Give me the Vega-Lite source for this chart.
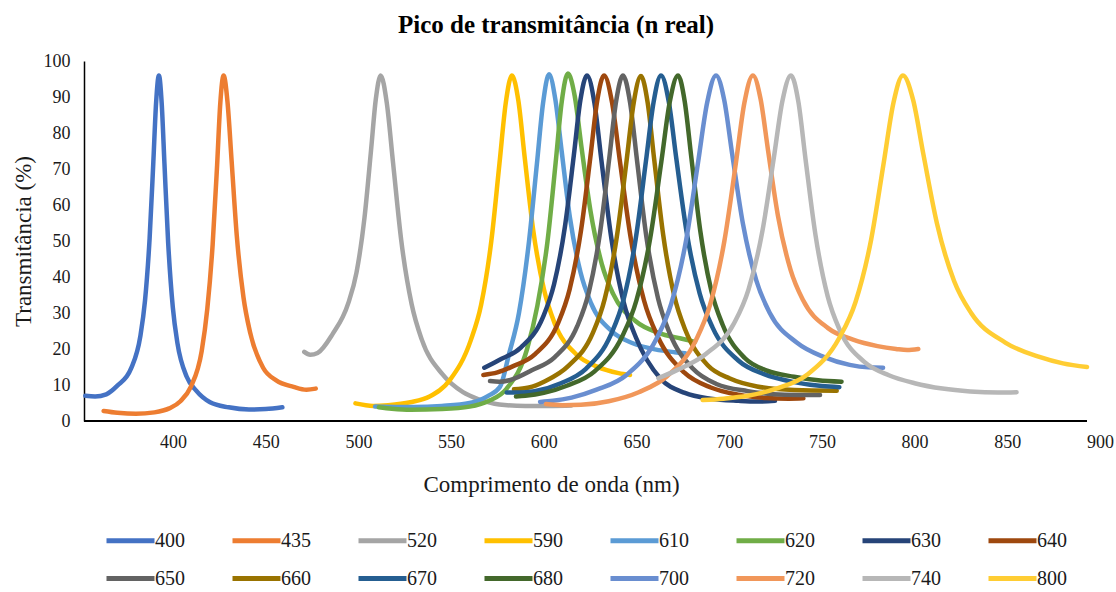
{
  "$schema": "https://vega.github.io/schema/vega-lite/v6.json",
  "width": 1016,
  "height": 360,
  "autosize": {"type": "none"},
  "padding": {"left": 84, "top": 61, "right": 16, "bottom": 171},
  "background": "white",
  "config": {"view": {"stroke": null}},
  "title": {"text": "Pico de transmitância (n real)", "font": "Liberation Serif", "fontSize": 25, "fontWeight": "bold", "color": "#000000", "anchor": "middle", "baseline": "alphabetic", "offset": -6, "dx": -36},
  "data": {"values": [
    {"s":"400","x":352.7,"y":7.0},{"s":"400","x":358,"y":6.8},{"s":"400","x":364,"y":7.4},{"s":"400","x":370,"y":9.8},{"s":"400","x":377.4,"y":14.6},{"s":"400","x":382.4,"y":23.6},{"s":"400","x":384.9,"y":33.4},{"s":"400","x":387.4,"y":50.8},{"s":"400","x":389.4,"y":72.0},{"s":"400","x":390.9,"y":88.5},{"s":"400","x":392.4,"y":96},{"s":"400","x":393.9,"y":88.3},{"s":"400","x":395.4,"y":71.4},{"s":"400","x":397.4,"y":49.5},{"s":"400","x":399.9,"y":31.6},{"s":"400","x":402.4,"y":21.6},{"s":"400","x":407.4,"y":12.3},{"s":"400","x":412.4,"y":8.5},{"s":"400","x":420,"y":5.2},{"s":"400","x":430,"y":3.8},{"s":"400","x":441,"y":3.2},{"s":"400","x":450,"y":3.3},{"s":"400","x":459,"y":3.8},
    {"s":"435","x":362.6,"y":2.8},{"s":"435","x":370,"y":2.3},{"s":"435","x":380,"y":2.0},{"s":"435","x":390,"y":2.4},{"s":"435","x":398,"y":3.5},{"s":"435","x":404,"y":5.5},{"s":"435","x":409.6,"y":9.5},{"s":"435","x":415.5,"y":19.5},{"s":"435","x":418.5,"y":31.1},{"s":"435","x":421.4,"y":49.1},{"s":"435","x":423.8,"y":71.1},{"s":"435","x":425.5,"y":88.2},{"s":"435","x":427.3,"y":96},{"s":"435","x":429.4,"y":88.6},{"s":"435","x":431.6,"y":72.4},{"s":"435","x":434.4,"y":51.5},{"s":"435","x":438.0,"y":34.4},{"s":"435","x":441.5,"y":24.8},{"s":"435","x":448.6,"y":14.8},{"s":"435","x":455.7,"y":11.3},{"s":"435","x":465,"y":9.5},{"s":"435","x":472,"y":8.7},{"s":"435","x":477,"y":9.0},
    {"s":"520","x":470.8,"y":19.2},{"s":"520","x":474,"y":18.4},{"s":"520","x":478,"y":18.9},{"s":"520","x":485.9,"y":24.0},{"s":"520","x":494.6,"y":32.8},{"s":"520","x":499.0,"y":41.3},{"s":"520","x":503.3,"y":56.5},{"s":"520","x":506.8,"y":75.1},{"s":"520","x":509.4,"y":89.4},{"s":"520","x":512.0,"y":96},{"s":"520","x":515.3,"y":88.4},{"s":"520","x":518.7,"y":71.7},{"s":"520","x":523.1,"y":50.2},{"s":"520","x":528.7,"y":32.5},{"s":"520","x":534.2,"y":22.6},{"s":"520","x":545.3,"y":13.0},{"s":"520","x":556.4,"y":8.0},{"s":"520","x":565,"y":6.0},{"s":"520","x":576,"y":4.6},{"s":"520","x":590,"y":4.2},{"s":"520","x":605,"y":4.2},{"s":"520","x":615,"y":4.3},
    {"s":"590","x":498.4,"y":4.9},{"s":"590","x":508,"y":4.2},{"s":"590","x":516,"y":4.4},{"s":"590","x":528,"y":5.2},{"s":"590","x":538.4,"y":6.8},{"s":"590","x":549.5,"y":11.5},{"s":"590","x":560.6,"y":22.4},{"s":"590","x":566.2,"y":32.3},{"s":"590","x":571.7,"y":50},{"s":"590","x":576.1,"y":71.6},{"s":"590","x":579.5,"y":88.4},{"s":"590","x":582.8,"y":96},{"s":"590","x":586.3,"y":88.9},{"s":"590","x":589.7,"y":73.2},{"s":"590","x":594.3,"y":53},{"s":"590","x":600.1,"y":36.5},{"s":"590","x":605.8,"y":27.2},{"s":"590","x":617.3,"y":18.6},{"s":"590","x":628.8,"y":15.1},{"s":"590","x":640.3,"y":13.3},{"s":"590","x":646.5,"y":12.8},
    {"s":"610","x":509,"y":4.0},{"s":"610","x":520,"y":3.9},{"s":"610","x":530,"y":3.9},{"s":"610","x":545,"y":4.2},{"s":"610","x":560,"y":5.0},{"s":"610","x":570,"y":7.0},{"s":"610","x":576.4,"y":9.5},{"s":"610","x":581.2,"y":18.5},{"s":"610","x":586.6,"y":30.0},{"s":"610","x":592.0,"y":49.8},{"s":"610","x":596.3,"y":71.5},{"s":"610","x":599.6,"y":88.3},{"s":"610","x":602.8,"y":96.3},{"s":"610","x":606.2,"y":89.4},{"s":"610","x":609.6,"y":75.1},{"s":"610","x":614.1,"y":56.5},{"s":"610","x":619.8,"y":41.3},{"s":"610","x":625.4,"y":32.8},{"s":"610","x":636.7,"y":24.9},{"s":"610","x":648.0,"y":21.6},{"s":"610","x":660,"y":19.9},{"s":"610","x":670.6,"y":19.1},{"s":"610","x":676.2,"y":18.8},
    {"s":"620","x":511,"y":3.8},{"s":"620","x":518,"y":3.4},{"s":"620","x":528,"y":3.1},{"s":"620","x":545,"y":3.3},{"s":"620","x":560,"y":4.0},{"s":"620","x":570,"y":5.5},{"s":"620","x":580.0,"y":9.0},{"s":"620","x":591.0,"y":20.0},{"s":"620","x":596.5,"y":31.9},{"s":"620","x":602.0,"y":49.9},{"s":"620","x":606.4,"y":71.8},{"s":"620","x":609.7,"y":88.8},{"s":"620","x":613.0,"y":96.5},{"s":"620","x":616.7,"y":90.2},{"s":"620","x":620.3,"y":76.2},{"s":"620","x":625.2,"y":58.3},{"s":"620","x":631.3,"y":43.6},{"s":"620","x":637.4,"y":35.3},{"s":"620","x":649.6,"y":27.7},{"s":"620","x":661.8,"y":24.5},{"s":"620","x":674,"y":22.9},{"s":"620","x":681.6,"y":22.0},
    {"s":"630","x":567.9,"y":14.8},{"s":"630","x":575.7,"y":16.9},{"s":"630","x":587.6,"y":20.4},{"s":"630","x":599.5,"y":28.8},{"s":"630","x":605.5,"y":37.9},{"s":"630","x":611.4,"y":54},{"s":"630","x":616.2,"y":73.8},{"s":"630","x":619.7,"y":89},{"s":"630","x":623.3,"y":96},{"s":"630","x":627.3,"y":88.4},{"s":"630","x":631.2,"y":71.9},{"s":"630","x":636.5,"y":50.5},{"s":"630","x":643.1,"y":33.0},{"s":"630","x":649.7,"y":23.2},{"s":"630","x":662.9,"y":11.8},{"s":"630","x":676.1,"y":7.8},{"s":"630","x":690,"y":6.2},{"s":"630","x":705,"y":5.6},{"s":"630","x":715,"y":5.4},{"s":"630","x":724.7,"y":5.6},
    {"s":"640","x":567.4,"y":12.8},{"s":"640","x":575,"y":13.5},{"s":"640","x":582.9,"y":15.1},{"s":"640","x":595.3,"y":18.6},{"s":"640","x":607.7,"y":27.2},{"s":"640","x":613.9,"y":36.5},{"s":"640","x":620.1,"y":53},{"s":"640","x":625.1,"y":73.2},{"s":"640","x":628.8,"y":88.9},{"s":"640","x":632.5,"y":96},{"s":"640","x":636.8,"y":88.5},{"s":"640","x":641.1,"y":72.0},{"s":"640","x":646.9,"y":50.8},{"s":"640","x":654.1,"y":33.4},{"s":"640","x":661.3,"y":23.6},{"s":"640","x":675.7,"y":13.5},{"s":"640","x":690.1,"y":9.3},{"s":"640","x":705,"y":7.3},{"s":"640","x":720,"y":6.4},{"s":"640","x":732,"y":6.2},{"s":"640","x":740,"y":6.3},
    {"s":"650","x":571,"y":11.1},{"s":"650","x":576,"y":10.9},{"s":"650","x":582,"y":11.4},{"s":"650","x":593.5,"y":14.1},{"s":"650","x":605.8,"y":17.7},{"s":"650","x":618.1,"y":26.4},{"s":"650","x":624.3,"y":35.8},{"s":"650","x":630.4,"y":52.5},{"s":"650","x":635.3,"y":72.9},{"s":"650","x":639.0,"y":88.8},{"s":"650","x":642.7,"y":96},{"s":"650","x":646.5,"y":88.6},{"s":"650","x":650.3,"y":72.3},{"s":"650","x":655.3,"y":51.3},{"s":"650","x":661.6,"y":34.1},{"s":"650","x":667.9,"y":24.4},{"s":"650","x":680.5,"y":14.5},{"s":"650","x":693.1,"y":10.3},{"s":"650","x":710,"y":8.3},{"s":"650","x":730,"y":7.3},{"s":"650","x":749,"y":7.2},
    {"s":"660","x":583.9,"y":8.8},{"s":"660","x":592,"y":9.3},{"s":"660","x":600.4,"y":11.0},{"s":"660","x":613.4,"y":15.4},{"s":"660","x":626.4,"y":24.4},{"s":"660","x":632.9,"y":34.0},{"s":"660","x":639.4,"y":51.2},{"s":"660","x":644.6,"y":72.1},{"s":"660","x":648.5,"y":88.4},{"s":"660","x":652.4,"y":95.8},{"s":"660","x":656.0,"y":88.5},{"s":"660","x":659.6,"y":72.4},{"s":"660","x":664.4,"y":51.7},{"s":"660","x":670.4,"y":34.7},{"s":"660","x":676.4,"y":25.2},{"s":"660","x":688.4,"y":15.5},{"s":"660","x":700.4,"y":11.8},{"s":"660","x":715,"y":9.6},{"s":"660","x":735,"y":8.6},{"s":"660","x":758,"y":8.4},
    {"s":"670","x":580,"y":7.9},{"s":"670","x":587,"y":7.9},{"s":"670","x":595,"y":8.3},{"s":"670","x":609.2,"y":10.5},{"s":"670","x":622.7,"y":14.5},{"s":"670","x":636.2,"y":24.0},{"s":"670","x":643.0,"y":33.7},{"s":"670","x":649.7,"y":51},{"s":"670","x":655.1,"y":72.2},{"s":"670","x":659.2,"y":88.5},{"s":"670","x":663.2,"y":96},{"s":"670","x":667.4,"y":88.7},{"s":"670","x":671.5,"y":72.8},{"s":"670","x":677.1,"y":52.3},{"s":"670","x":684.1,"y":35.4},{"s":"670","x":691.0,"y":26.0},{"s":"670","x":704.9,"y":16.8},{"s":"670","x":718.8,"y":13.0},{"s":"670","x":735,"y":10.8},{"s":"670","x":750,"y":9.7},{"s":"670","x":759.4,"y":9.4},
    {"s":"680","x":585,"y":6.8},{"s":"680","x":590,"y":7.0},{"s":"680","x":600,"y":7.8},{"s":"680","x":612.4,"y":9.8},{"s":"680","x":627.4,"y":13.8},{"s":"680","x":642.4,"y":23.6},{"s":"680","x":649.9,"y":33.4},{"s":"680","x":657.4,"y":50.8},{"s":"680","x":663.4,"y":72.0},{"s":"680","x":667.9,"y":88.5},{"s":"680","x":672.4,"y":96},{"s":"680","x":676.0,"y":88.8},{"s":"680","x":679.6,"y":73.1},{"s":"680","x":684.4,"y":52.8},{"s":"680","x":690.4,"y":36.1},{"s":"680","x":696.4,"y":26.8},{"s":"680","x":708.4,"y":17.5},{"s":"680","x":720.4,"y":14.0},{"s":"680","x":735,"y":12.3},{"s":"680","x":748,"y":11.3},{"s":"680","x":760.6,"y":10.9},
    {"s":"700","x":598,"y":5.3},{"s":"700","x":605,"y":5.6},{"s":"700","x":615,"y":6.5},{"s":"700","x":628.5,"y":8.7},{"s":"700","x":644.6,"y":12.8},{"s":"700","x":660.7,"y":22.8},{"s":"700","x":668.8,"y":32.7},{"s":"700","x":676.8,"y":50.3},{"s":"700","x":683.2,"y":71.8},{"s":"700","x":688.1,"y":88.4},{"s":"700","x":692.9,"y":96},{"s":"700","x":697.3,"y":89.2},{"s":"700","x":701.6,"y":74.2},{"s":"700","x":707.4,"y":54.8},{"s":"700","x":714.7,"y":38.9},{"s":"700","x":721.9,"y":30},{"s":"700","x":736.4,"y":21.8},{"s":"700","x":750.9,"y":17.8},{"s":"700","x":765,"y":15.6},{"s":"700","x":775,"y":14.9},{"s":"700","x":783,"y":14.8},
    {"s":"720","x":601.2,"y":4.7},{"s":"720","x":610,"y":4.4},{"s":"720","x":620,"y":4.5},{"s":"720","x":635,"y":5.5},{"s":"720","x":651.2,"y":8.0},{"s":"720","x":666.6,"y":12.5},{"s":"720","x":682.0,"y":22.4},{"s":"720","x":689.7,"y":32.3},{"s":"720","x":697.4,"y":50},{"s":"720","x":703.6,"y":71.6},{"s":"720","x":708.2,"y":88.4},{"s":"720","x":712.8,"y":96},{"s":"720","x":716.9,"y":89.5},{"s":"720","x":720.9,"y":75.4},{"s":"720","x":726.3,"y":57},{"s":"720","x":733.1,"y":42},{"s":"720","x":739.8,"y":33.6},{"s":"720","x":753.3,"y":25.8},{"s":"720","x":766.8,"y":22.6},{"s":"720","x":780,"y":20.8},{"s":"720","x":790,"y":20.0},{"s":"720","x":796,"y":19.7},{"s":"720","x":802,"y":20.0},
    {"s":"740","x":661.8,"y":11.9},{"s":"740","x":672.1,"y":14.2},{"s":"740","x":687.4,"y":18.6},{"s":"740","x":702.7,"y":27.2},{"s":"740","x":710.4,"y":36.5},{"s":"740","x":718.0,"y":53},{"s":"740","x":724.1,"y":73.2},{"s":"740","x":728.7,"y":88.9},{"s":"740","x":733.3,"y":96},{"s":"740","x":737.3,"y":88.7},{"s":"740","x":741.2,"y":72.6},{"s":"740","x":746.5,"y":51.8},{"s":"740","x":753.1,"y":34.7},{"s":"740","x":759.7,"y":25.2},{"s":"740","x":772.9,"y":16.4},{"s":"740","x":786.1,"y":12.7},{"s":"740","x":800,"y":10.5},{"s":"740","x":815,"y":9.0},{"s":"740","x":830,"y":8.2},{"s":"740","x":845,"y":7.9},{"s":"740","x":855,"y":8.0},
    {"s":"800","x":685.7,"y":5.8},{"s":"800","x":697,"y":6.2},{"s":"800","x":710,"y":7.0},{"s":"800","x":725.3,"y":9.0},{"s":"800","x":742.4,"y":13.0},{"s":"800","x":759.5,"y":23.2},{"s":"800","x":768.1,"y":33.0},{"s":"800","x":776.6,"y":50.5},{"s":"800","x":783.4,"y":71.9},{"s":"800","x":788.6,"y":88.4},{"s":"800","x":793.7,"y":96},{"s":"800","x":799.2,"y":89.2},{"s":"800","x":804.7,"y":74.2},{"s":"800","x":812.1,"y":54.8},{"s":"800","x":821.3,"y":38.9},{"s":"800","x":830.5,"y":30.0},{"s":"800","x":848.9,"y":21.8},{"s":"800","x":867.3,"y":17.8},{"s":"800","x":880,"y":16.0},{"s":"800","x":893,"y":15.0}
  ]},
  "layer": [
    {
      "mark": {"type": "line", "interpolate": "monotone", "strokeWidth": 4.5, "strokeCap": "round", "strokeJoin": "round"},
      "encoding": {
        "x": {"field": "x", "type": "quantitative", "scale": {"domain": [352, 900], "nice": false, "zero": false},
          "axis": {"values": [400, 450, 500, 550, 600, 650, 700, 750, 800, 850, 900], "tickCount": 12, "domain": false, "ticks": false, "grid": false, "labelFont": "Liberation Serif", "labelFontSize": 18, "labelColor": "#1a1a1a", "labelPadding": 12, "labelFlush": false, "labelOverlap": false,
            "title": "Comprimento de onda (nm)", "titleFont": "Liberation Serif", "titleFontSize": 23, "titleFontWeight": "normal", "titleColor": "#1a1a1a", "titleBaseline": "alphabetic", "titleX": 467, "titleY": 70}},
        "y": {"field": "y", "type": "quantitative", "scale": {"domain": [0, 100], "nice": false},
          "axis": {"values": [0, 10, 20, 30, 40, 50, 60, 70, 80, 90, 100], "tickCount": 12, "domain": true, "domainColor": "#000000", "domainWidth": 1.5, "ticks": false, "grid": false, "labelFont": "Liberation Serif", "labelFontSize": 18, "labelColor": "#1a1a1a", "labelPadding": 14, "labelFlush": false, "labelOverlap": false,
            "title": "Transmitância (%)", "titleFont": "Liberation Serif", "titleFontSize": 23, "titleFontWeight": "normal", "titleColor": "#1a1a1a", "titleAngle": -90, "titleBaseline": "alphabetic", "titleX": -54, "titleY": 180, "titleAlign": "center"}},
        "color": {"field": "s", "type": "nominal",
          "scale": {"domain": ["400","435","520","590","610","620","630","640","650","660","670","680","700","720","740","800"],
                    "range": ["#4472C4","#ED7D31","#A5A5A5","#FFC000","#5B9BD5","#70AD47","#264478","#9E480E","#636363","#997300","#255E91","#43682B","#698ED0","#F1975A","#B7B7B7","#FFCD33"]},
          "legend": {"orient": "none", "legendX": 20, "legendY": 453, "direction": "horizontal", "columns": 8, "title": null, "symbolType": "stroke", "symbolSize": 2304, "symbolStrokeWidth": 5, "labelFont": "Liberation Serif", "labelFontSize": 20, "labelColor": "#1a1a1a", "labelOffset": -2, "columnPadding": 37, "rowPadding": 1, "padding": 0}}
      }
    },
    {
      "mark": {"type": "rule", "color": "#000000", "strokeWidth": 1.5},
      "encoding": {"x": {"datum": 352}, "x2": {"datum": 893}, "y": {"datum": 0}}
    }
  ]
}
